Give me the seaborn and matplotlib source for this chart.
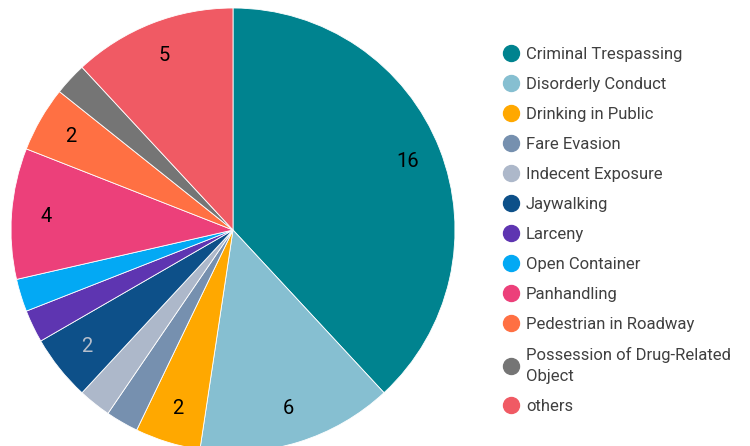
import matplotlib
matplotlib.use("Agg")
import matplotlib.pyplot as plt
from matplotlib.lines import Line2D
import seaborn as sns

# Veriler
categories = ["Criminal Trespassing", "Disorderly Conduct", "Drinking in Public",
              "Fare Evasion", "Indecent Exposure", "Jaywalking", "Larceny",
              "Open Container", "Panhandling", "Pedestrian in Roadway",
              "Possession of Drug-Related\nObject", "others"]
counts = [16, 6, 2, 1, 1, 2, 1, 1, 4, 2, 1, 5]
hex_colors = ["#00838F", "#86BFD1", "#FFA800", "#7690AF", "#ADB8CA", "#0D5089",
              "#5E35B1", "#03A9F4", "#EC407A", "#FF7043", "#757575", "#F05A64"]
label_colors = ["black", "black", "black", "black", "black", "#B7BFCC",
                "black", "black", "black", "black", "black", "black"]

sns.set_theme(style="white")
plt.rcParams["font.family"] = ["Roboto", "DejaVu Sans"]
palette = sns.color_palette(hex_colors)
total = sum(counts)


def show_count(p):
    n = round(p * total / 100)
    return str(n) if n >= 2 else ""


fig = plt.figure(figsize=(7.5, 4.46), dpi=100)
ax = fig.add_axes([0, 0, 1, 1])

wedges, texts, autotexts = ax.pie(counts, colors=palette, startangle=90, counterclock=False,
                                  autopct=show_count, pctdistance=0.843,
                                  wedgeprops=dict(edgecolor="white", linewidth=0.6),
                                  textprops=dict(fontsize=14.5))
for t, c in zip(autotexts, label_colors):
    t.set_color(c)

# Eksen sınırları (merkez ~ (233,230) px, yarıçap ~222 px)
ax.set_xlim(-233 / 222, 517 / 222)
ax.set_ylim(-216 / 222, 230 / 222)
ax.set_aspect("auto")
ax.axis("off")

# Lejant
handles = [Line2D([0], [0], marker="o", linestyle="", markersize=11.5,
                  markerfacecolor=col, markeredgecolor=col) for col in hex_colors]
leg = fig.legend(handles, categories, loc="upper left", bbox_to_anchor=(0.670, 0.894),
                 frameon=False, fontsize=12, labelspacing=0.90, handletextpad=0.41,
                 handlelength=1.0, borderaxespad=0, borderpad=0)
for t in leg.get_texts():
    t.set_color("#404040")
    t.set_linespacing(1.5)

fig.savefig("out.png", dpi=100)
